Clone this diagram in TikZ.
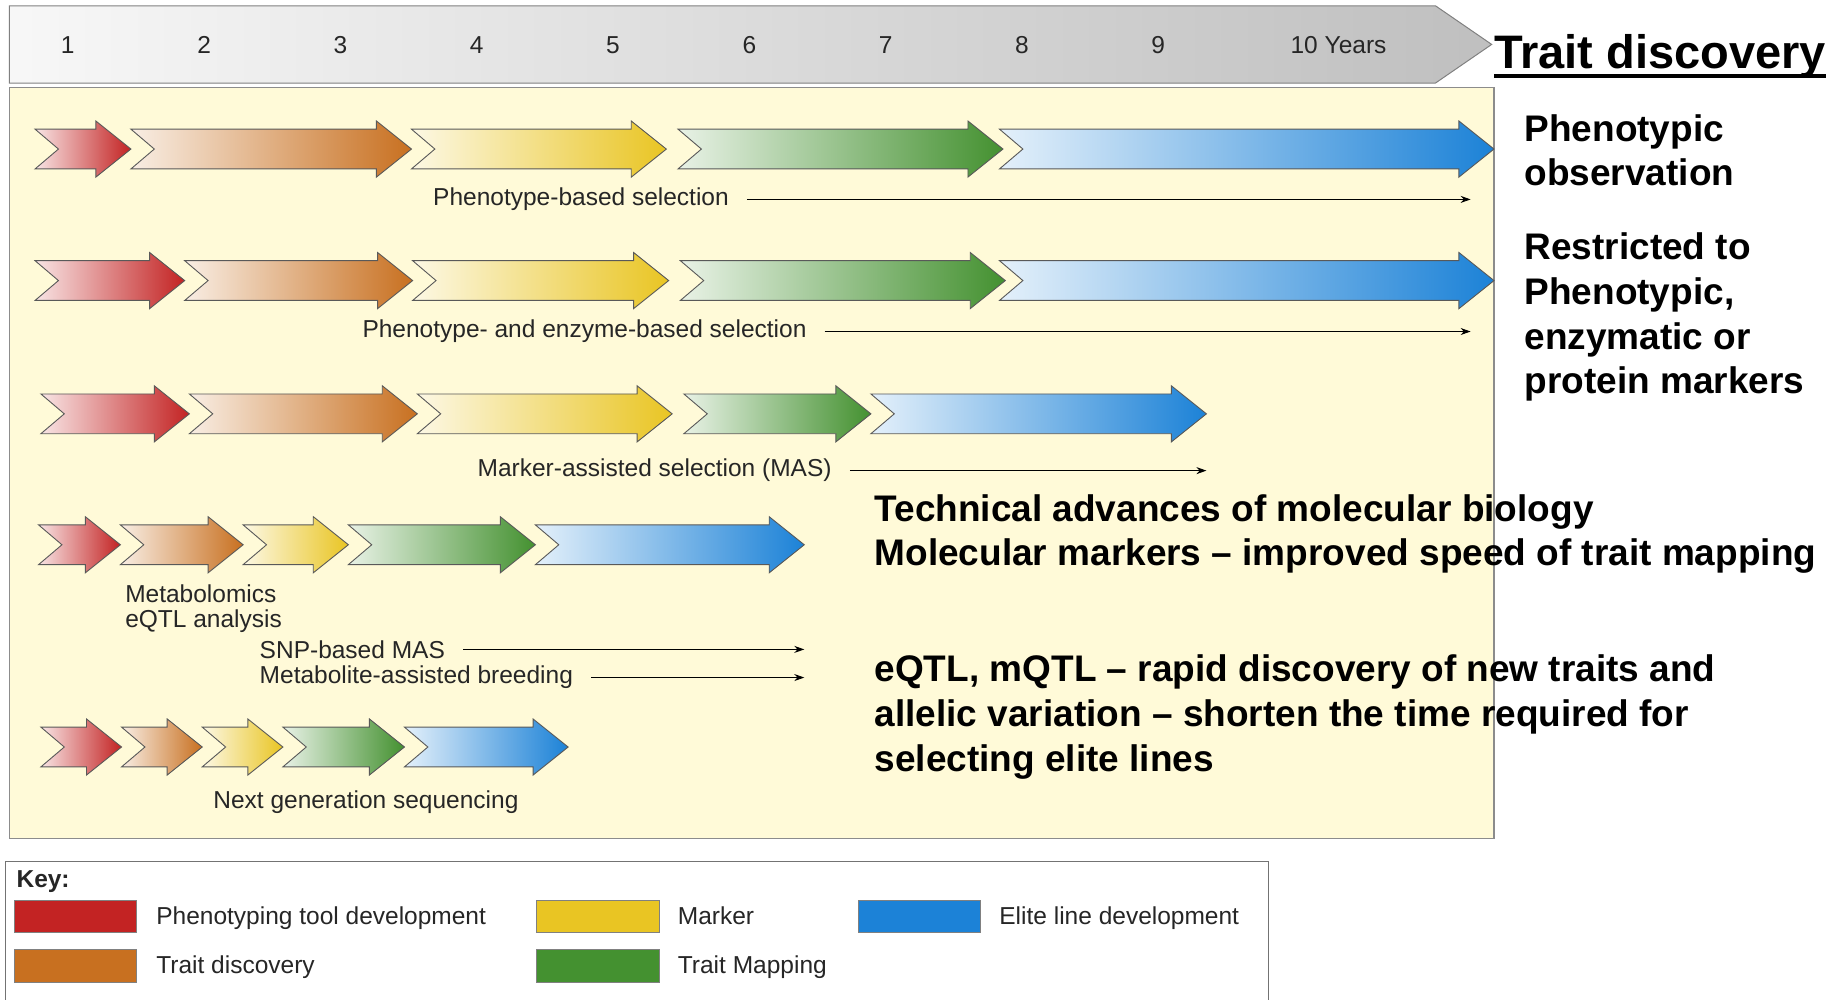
\documentclass[tikz,border=0pt]{standalone}
\usepackage{fontspec}
\setmainfont{Liberation Sans}
\usetikzlibrary{arrows.meta,positioning}

\definecolor{phred}{RGB}{195,35,35}
\definecolor{tdorange}{RGB}{200,112,32}
\definecolor{mkyellow}{RGB}{233,197,35}
\definecolor{tmgreen}{RGB}{68,145,48}
\definecolor{elblue}{RGB}{28,130,215}
\definecolor{panelyellow}{RGB}{255,250,216}

\newcommand{\smalltext}{\fontsize{24.5}{25}\selectfont}
\newcommand{\notefont}{\fontsize{37}{44.8}\selectfont\bfseries}
%% one chevron: from x #1 to tip x #2, centre line #3, colour #4
\newcommand{\chev}[4]{\draw[chevline, left color=#4!12!white, right color=#4]
  (#1,#3-17) -- (#2-30,#3-17) -- (#2-30,#3-24) -- (#2,#3) -- (#2-30,#3+24)
  -- (#2-30,#3+17) -- (#1,#3+17) -- (#1+20,#3) -- cycle;}

\tikzset{
  chevline/.style={draw=black!65, line width=0.9pt},
  seltext/.style={font=\smalltext, text=black!85, inner sep=0pt},
  selarrow/.style={-{Stealth[length=10pt,width=7pt]}, line width=0.9pt, shorten <=18pt},
  notetext/.style={font=\notefont, align=left, inner sep=0pt, anchor=base west},
  swatch/.style={draw=black!50, line width=0.8pt, fill=#1, minimum width=122.7pt, minimum height=32.7pt, inner sep=0pt},
  keylabel/.style={font=\smalltext, text=black!85, inner sep=0pt, anchor=base west, yshift=-8pt}
}

\begin{document}
\begin{tikzpicture}[x=1.169pt, y=-1.169pt]
\useasboundingbox (0,0) rectangle (1568,855);

%% time line
\draw[draw=black!50, line width=1pt, left color=black!3, right color=black!25]
  (8,5) -- (1228,5) -- (1276,38) -- (1228,71) -- (8,71) -- cycle;
\foreach \n in {1,...,9}
  \node[seltext, anchor=base] (yr\n) at ({58+116.6*(\n-1)},45.5) {\n};
\node[seltext, anchor=base] (yr10) at (1145,45.5) {10 Years};

\node[font=\fontsize{47}{50}\selectfont\bfseries, inner sep=0pt, anchor=base west] (title) at (1278,58.5) {Trait discovery};
\draw[line width=4pt] ([yshift=-8pt]title.base west) -- ([yshift=-8pt]title.base east);

%% the panel
\draw[draw=black!45, line width=1.2pt, fill=panelyellow] (8,75) rectangle (1278,717);

\foreach \xa/\xb/\col in {30/112/phred, 112/352/tdorange, 352/570/mkyellow, 580/858/tmgreen, 855/1278/elblue}
  \chev{\xa}{\xb}{127.5}{\col};
\foreach \xa/\xb/\col in {30/158/phred, 158/353/tdorange, 353/572/mkyellow, 582/860/tmgreen, 855/1278/elblue}
  \chev{\xa}{\xb}{240}{\col};
\foreach \xa/\xb/\col in {35/162/phred, 162/357/tdorange, 357/575/mkyellow, 585/745/tmgreen, 745/1032/elblue}
  \chev{\xa}{\xb}{354}{\col};
\foreach \xa/\xb/\col in {33/103/phred, 103/208/tdorange, 208/298/mkyellow, 298/458/tmgreen, 458/688/elblue}
  \chev{\xa}{\xb}{466}{\col};
\foreach \xa/\xb/\col in {35/104/phred, 104/173/tdorange, 173/242/mkyellow, 242/346/tmgreen, 346/486/elblue}
  \chev{\xa}{\xb}{639}{\col};

\node[seltext, anchor=base] (pbs) at (497,176) {Phenotype-based selection};
\node[seltext, anchor=base] (pes) at (500,289) {Phenotype- and enzyme-based selection};
\node[seltext, anchor=base] (mas) at (560,408) {Marker-assisted selection (MAS)};
\node[seltext, anchor=base west, align=left] (meta) at (107,537) {Metabolomics\\eQTL analysis};
\node[seltext, anchor=base west] (snp) at (222,563) {SNP-based MAS};
\node[seltext, anchor=base west] (mab) at (222,585) {Metabolite-assisted breeding};
\node[seltext, anchor=base] (ngs) at (313,692) {Next generation sequencing};

\coordinate (endlong) at (1258,0);
\coordinate (endmas) at (1032,0);
\coordinate (endsnp) at (688,0);
\draw[selarrow] (pbs.east) -- (pbs.east -| endlong);
\draw[selarrow] (pes.east) -- (pes.east -| endlong);
\draw[selarrow] (mas.east) -- (mas.east -| endmas);
\draw[selarrow] (snp.east) -- (snp.east -| endsnp);
\draw[selarrow] (mab.east) -- (mab.east -| endsnp);

%% notes (base = last line)
\node[notetext] (obs) at (1304,159) {Phenotypic\\observation};
\node[notetext] (restr) at (1304,337) {Restricted to\\Phenotypic,\\enzymatic or\\protein markers};
\node[notetext] (tech) at (748,484) {Technical advances of molecular biology\\Molecular markers -- improved speed of trait mapping};
\node[notetext] (eqtl) at (748,660) {eQTL, mQTL -- rapid discovery of new traits and\\allelic variation -- shorten the time required for\\selecting elite lines};

%% key
\draw[draw=black!55, line width=1pt, fill=white] (5,737) rectangle (1085,875);
\node[seltext, font=\smalltext\bfseries, anchor=base west] (key) at (14,759) {Key:};
\node[swatch=phred] (kred) at (64.5,784) {};
\node[swatch=tdorange] (korange) at (64.5,826) {};
\node[swatch=mkyellow] (kyellow) at (511.5,784) {};
\node[swatch=tmgreen] (kgreen) at (511.5,826) {};
\node[swatch=elblue] (kblue) at (786.5,784) {};
\node[keylabel, right=19pt of kred, anchor=base west] (lred) {Phenotyping tool development};
\node[keylabel, right=19pt of korange, anchor=base west] (lorange) {Trait discovery};
\node[keylabel, right=18pt of kyellow, anchor=base west] (lyellow) {Marker};
\node[keylabel, right=18pt of kgreen, anchor=base west] (lgreen) {Trait Mapping};
\node[keylabel, right=18pt of kblue, anchor=base west] (lblue) {Elite line development};
\end{tikzpicture}
\end{document}
